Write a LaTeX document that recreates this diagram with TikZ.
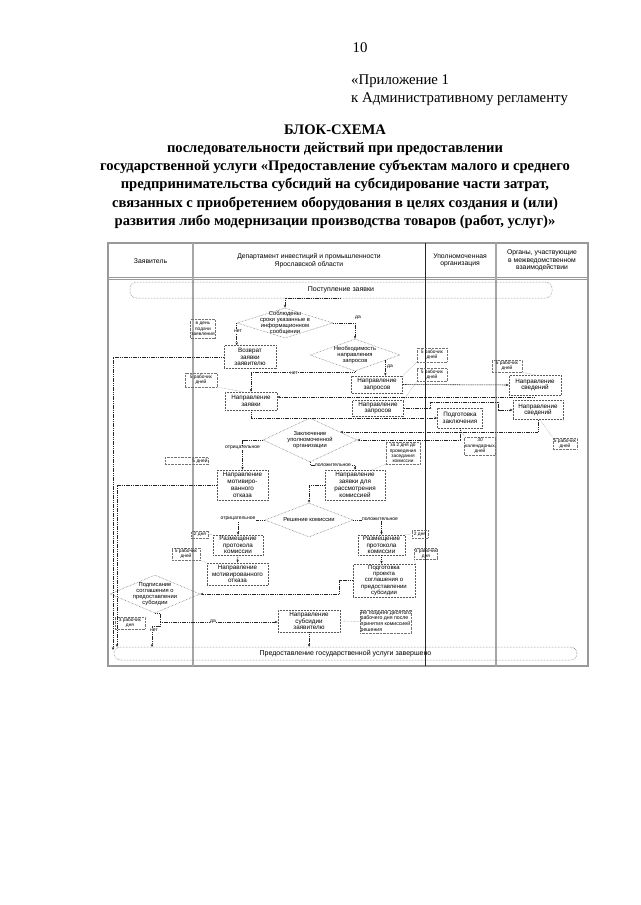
\documentclass[tikz,border=0pt]{standalone}
\usepackage{fontspec}
\setmainfont{Liberation Serif}
\newfontfamily\dgf{Liberation Sans}
\usetikzlibrary{shapes.geometric,arrows.meta,calc}
\tikzset{
 bx/.style={draw=black!65, densely dotted, line width=0.5pt, align=center, inner sep=0.5pt, font=\dgf\fontsize{6.3}{6.8}\selectfont},
 dia/.style={diamond, draw=black!65, densely dotted, line width=0.5pt, inner sep=0pt},
 dtext/.style={align=center, inner sep=0pt, font=\dgf\fontsize{5.8}{6.2}\selectfont},
 nt/.style={draw=black!55, densely dotted, line width=0.4pt, align=center, inner sep=0.5pt, font=\dgf\fontsize{4.8}{5.3}\selectfont},
 ld/.style={draw=black!55, densely dotted, line width=0.4pt},
 arr/.style={draw=black!85, line width=0.55pt, dash pattern=on 1.2pt off 0.6pt, -{Stealth[length=3pt,width=2.4pt]}},
 ln/.style={draw=black!85, line width=0.55pt, dash pattern=on 1.2pt off 0.6pt},
 lab/.style={font=\dgf\fontsize{5}{5.5}\selectfont, inner sep=0.5pt, fill=white},
 term/.style={draw=black!60, densely dotted, line width=0.5pt, rounded corners=6.5pt, font=\dgf\fontsize{7}{8}\selectfont, inner sep=0pt},
 colh/.style={align=center, font=\dgf\fontsize{6.8}{7.6}\selectfont, inner sep=0pt},
 hdr/.style={font=\fontsize{14.8}{16}\selectfont, inner sep=0pt},
}
\begin{document}
\begin{tikzpicture}[x=1pt,y=-1pt]
\fill[white] (0,0) rectangle (640,905);
\path[use as bounding box] (0,0) rectangle (640,905);

% ---------- page header ----------
\node[hdr] (pg) at (360,48) {10};
\node[hdr, anchor=base west] (ap1) at (351,84) {«Приложение 1};
\node[hdr, anchor=base west] (ap2) at (351,102) {к Административному регламенту};
\node[align=center, font=\bfseries\fontsize{14.6}{18.2}\selectfont, inner sep=0pt] (ttl) at (335,176.5)
 {БЛОК-СХЕМА\\последовательности действий при предоставлении\\государственной услуги «Предоставление субъектам малого и среднего\\предпринимательства субсидий на субсидирование части затрат,\\связанных с приобретением оборудования в целях создания и (или)\\развития либо модернизации производства товаров (работ, услуг)»};

% ---------- frame ----------
\draw[line width=1.2pt, black!40] (108,243) rectangle (588,666);
\draw[line width=0.6pt, black!40] (108,277) -- (588,277) (108,279.5) -- (588,279.5);
\draw[line width=1.6pt, black!35] (193,243) -- (193,666);
\draw[line width=0.8pt, black!85] (425,243) -- (425,666);
\draw[line width=1.6pt, black!35] (496,243) -- (496,666);

\node[colh] (h1) at (150.5,261) {Заявитель};
\node[colh] (h2) at (309,260.5) {Департамент инвестиций и промышленности\\Ярославской области};
\node[colh] (h3) at (460,260.5) {Уполномоченная\\организация};
\node[colh] (h4) at (542,260.5) {Органы, участвующие\\в межведомственном\\взаимодействии};

% ---------- terminators ----------
\node[term, minimum width=422, minimum height=16] (t1) at (341,290) {Поступление заявки};
\node[term, minimum width=463, minimum height=13] (t2) at (345.5,653.5) {Предоставление государственной услуги завершено};
\coordinate (t2a) at (117,647);
\coordinate (t2b) at (113,650);
\coordinate (t2c) at (152,647);

% ---------- diamonds ----------
\node[dia, minimum width=96, minimum height=30] (d1) at (285,323) {};
\node[dtext] (d1t) at (d1) {Соблюдены\\сроки указанные в\\информационном\\сообщении};
\node[dia, minimum width=90, minimum height=32] (d2) at (355,355) {};
\node[dtext] (d2t) at (d2) {Необходимость\\направления\\запросов};
\node[dia, minimum width=94, minimum height=44] (d3) at (310,440) {};
\node[dtext] (d3t) at (d3) {Заключение\\уполномоченной\\организации};
\node[dia, minimum width=88, minimum height=34] (d4) at (309,520) {};
\node[dtext] (d4t) at (d4) {Решение комиссии};
\node[dia, minimum width=90, minimum height=38] (d5) at (155,594) {};
\node[dtext] (d5t) at (d5) {Подписание\\соглашения о\\предоставлении\\субсидии};

% ---------- boxes ----------
\node[bx, minimum width=52, minimum height=23] (voz) at (250,357) {Возврат\\заявки\\заявителю};
\node[bx, minimum width=51, minimum height=17] (nzap1) at (377,384.5) {Направление\\запросов};
\node[bx, minimum width=52, minimum height=20] (sv1) at (535,385) {Направление\\сведений};
\node[bx, minimum width=52, minimum height=18] (nz) at (251,401) {Направление\\заявки};
\node[bx, minimum width=51, minimum height=16] (nzap2) at (378,408) {Направление\\запросов};
\node[bx, minimum width=50, minimum height=19] (sv2) at (538,410) {Направление\\сведений};
\node[bx, minimum width=45, minimum height=20] (pz) at (460,418) {Подготовка\\заключения};
\node[bx, minimum width=51, minimum height=30] (mo1) at (242.5,485) {Направление\\мотивиро-\\ванного\\отказа};
\node[bx, minimum width=60, minimum height=30] (nzk) at (355,485) {Направление\\заявки для\\рассмотрения\\комиссией};
\node[bx, minimum width=50, minimum height=20] (rp1) at (238,545) {Размещение\\протокола\\комиссии};
\node[bx, minimum width=47, minimum height=20] (rp2) at (381.5,545) {Размещение\\протокола\\комиссии};
\node[bx, minimum width=61, minimum height=22] (mo2) at (237.5,574) {Направление\\мотивированного\\отказа};
\node[bx, minimum width=62, minimum height=33, font=\dgf\fontsize{6}{6.3}\selectfont] (pp) at (384,580.5) {Подготовка\\проекта\\соглашения о\\предоставлении\\субсидии};
\node[bx, minimum width=62, minimum height=22] (ns) at (309,621) {Направление\\субсидии\\заявителю};

% ---------- notes ----------
\node[nt, minimum width=25, minimum height=19] (n1) at (203,329) {в день\\подачи\\заявления};
\node[nt, minimum width=30, minimum height=14] (n2) at (432,355) {5 рабочих\\дней};
\node[nt, minimum width=30, minimum height=13] (n3) at (432,375) {5 рабочих\\дней};
\node[nt, minimum width=30, minimum height=12] (n4) at (507,366) {5 рабочих\\дней};
\node[nt, minimum width=32, minimum height=14] (n5) at (201,380) {5 рабочих\\дней};
\node[nt, minimum width=24, minimum height=11] (n6) at (565,443.5) {5 рабочих\\дней};
\node[nt, minimum width=30, minimum height=18] (n7) at (480,446) {30\\календарных\\дней};
\node[nt, minimum width=34, minimum height=22] (n8) at (403,453) {за 2 дня до\\проведения\\заседания\\комиссии};
\node[nt, text width=42pt, align=right, minimum height=7] (n9) at (186.5,461) {5 дней};
\node[nt, minimum width=17, minimum height=7] (n10) at (200,534.5) {2 дня};
\node[nt, minimum width=28, minimum height=12] (n11) at (186,554) {5 рабочих\\дней};
\node[nt, minimum width=16, minimum height=8] (n12) at (420,534) {2 дня};
\node[nt, minimum width=16, minimum height=10] (n13) at (426,554) {3 рабочих\\дня};
\node[nt, minimum width=30, minimum height=12] (n14) at (130,623) {3 рабочих\\дня};
\node[nt, anchor=west, align=left, minimum height=23, font=\dgf\fontsize{5.2}{5.7}\selectfont] (n15) at (360,621.5) {Не позднее десятого\\рабочего дня после\\принятия комиссией\\решения};

% note leaders
\draw[ld] (n2.south west) -- (nzap1.north east);
\draw[ld] (n3.south west) -- (nzap2.north east);
\draw[ld] (n4.south east) -- (sv1.north);
\draw[ld] (n5.south east) -- ([xshift=-8pt]nz.north);
\draw[ld] ([xshift=2pt]sv2.south) -- (n6.north west);
\draw[ld] (pz.south) -- (n7.north west);
\draw[ld] (n8.south west) -- ([xshift=-13pt]nzk.north east);
\draw[ld] (n10.east) -- (rp1.north west);
\draw[ld] (n11.south east) -- (mo2.north west);
\draw[ld] (rp2.north east) -- (n12.west);
\draw[ld] (pp.north east) -- (n13.south west);
\draw[ld] (ns.east) -- (n15.west);

% ---------- connectors ----------
\draw[arr] (t1.south) -| (d1.north);
\draw[arr] (d1.west) -- (d1.west |- voz.north);
\node[lab] (l1) at (238,331) {нет};
\draw[arr] (d1.east) -| (d2.north);
\node[lab] (l2) at (358,318) {да};
\coordinate (d2da) at ($(d2.east)!0.33!(d2.south)$);
\draw[arr] (d2da) -- (d2da |- nzap1.north);
\node[lab] (l3) at (390,367) {да};
\draw[arr] (d2.south) -- ++(0,1.5) -| (nz.north);
\node[lab] (l4) at (294,373.5) {нет};
\draw[arr] (voz.west) -| (t2b);
\draw[arr] (nzap1.east) -- (sv1.west);
\draw[arr] (sv1.south) |- ([yshift=4pt]nz.east);
\draw[arr] (nzap2.east) -- ++(27,0) -- ++(0,-6) -- ++(68,0) -- ++(0,8) -- (sv2.west);
\draw[arr] (nz.south) |- (pz.west);
\draw[arr] (pz.south) |- (d3.east);
\coordinate (d3b) at ($(d3.north)!0.64!(d3.east)$);
\draw[arr] (sv2.south) |- (d3b);
\draw[arr] (d3.west) -| (mo1.north);
\node[lab] (l5) at (242.5,448) {отрицательное};
\draw[arr] (mo1.west) -| (t2a);
\draw[arr] (d3.south) -- ++(0,3) -| (nzk.north);
\node[lab] (l6) at (333,465) {положительное};
\draw[arr] (nzk.west) -| (d4.north);
\draw[arr] (d4.west) -| (rp1.north);
\node[lab] (l7) at (238,519) {отрицательное};
\draw[arr] (d4.east) -| (rp2.north);
\node[lab] (l8) at (380,519) {положительное};
\draw[arr] (rp1.south) -- (mo2.north);
\draw[arr] (rp2.south) -- (rp2.south |- pp.north);
\draw[arr] (pp.west) -- ++(-13,0) |- (d5.east);
\coordinate (j5) at (160,622);
\draw[ln] (d5.south) -| (j5);
\draw[arr] (j5) -- (ns.west |- j5);
\node[lab] (l9) at (213,622) {да};
\draw[arr] (j5) -- ++(0,4) -| (t2c);
\node[lab] (l10) at (154,630) {нет};
\draw[arr] (ns.south) -- (ns.south |- t2.north);
\end{tikzpicture}
\end{document}
